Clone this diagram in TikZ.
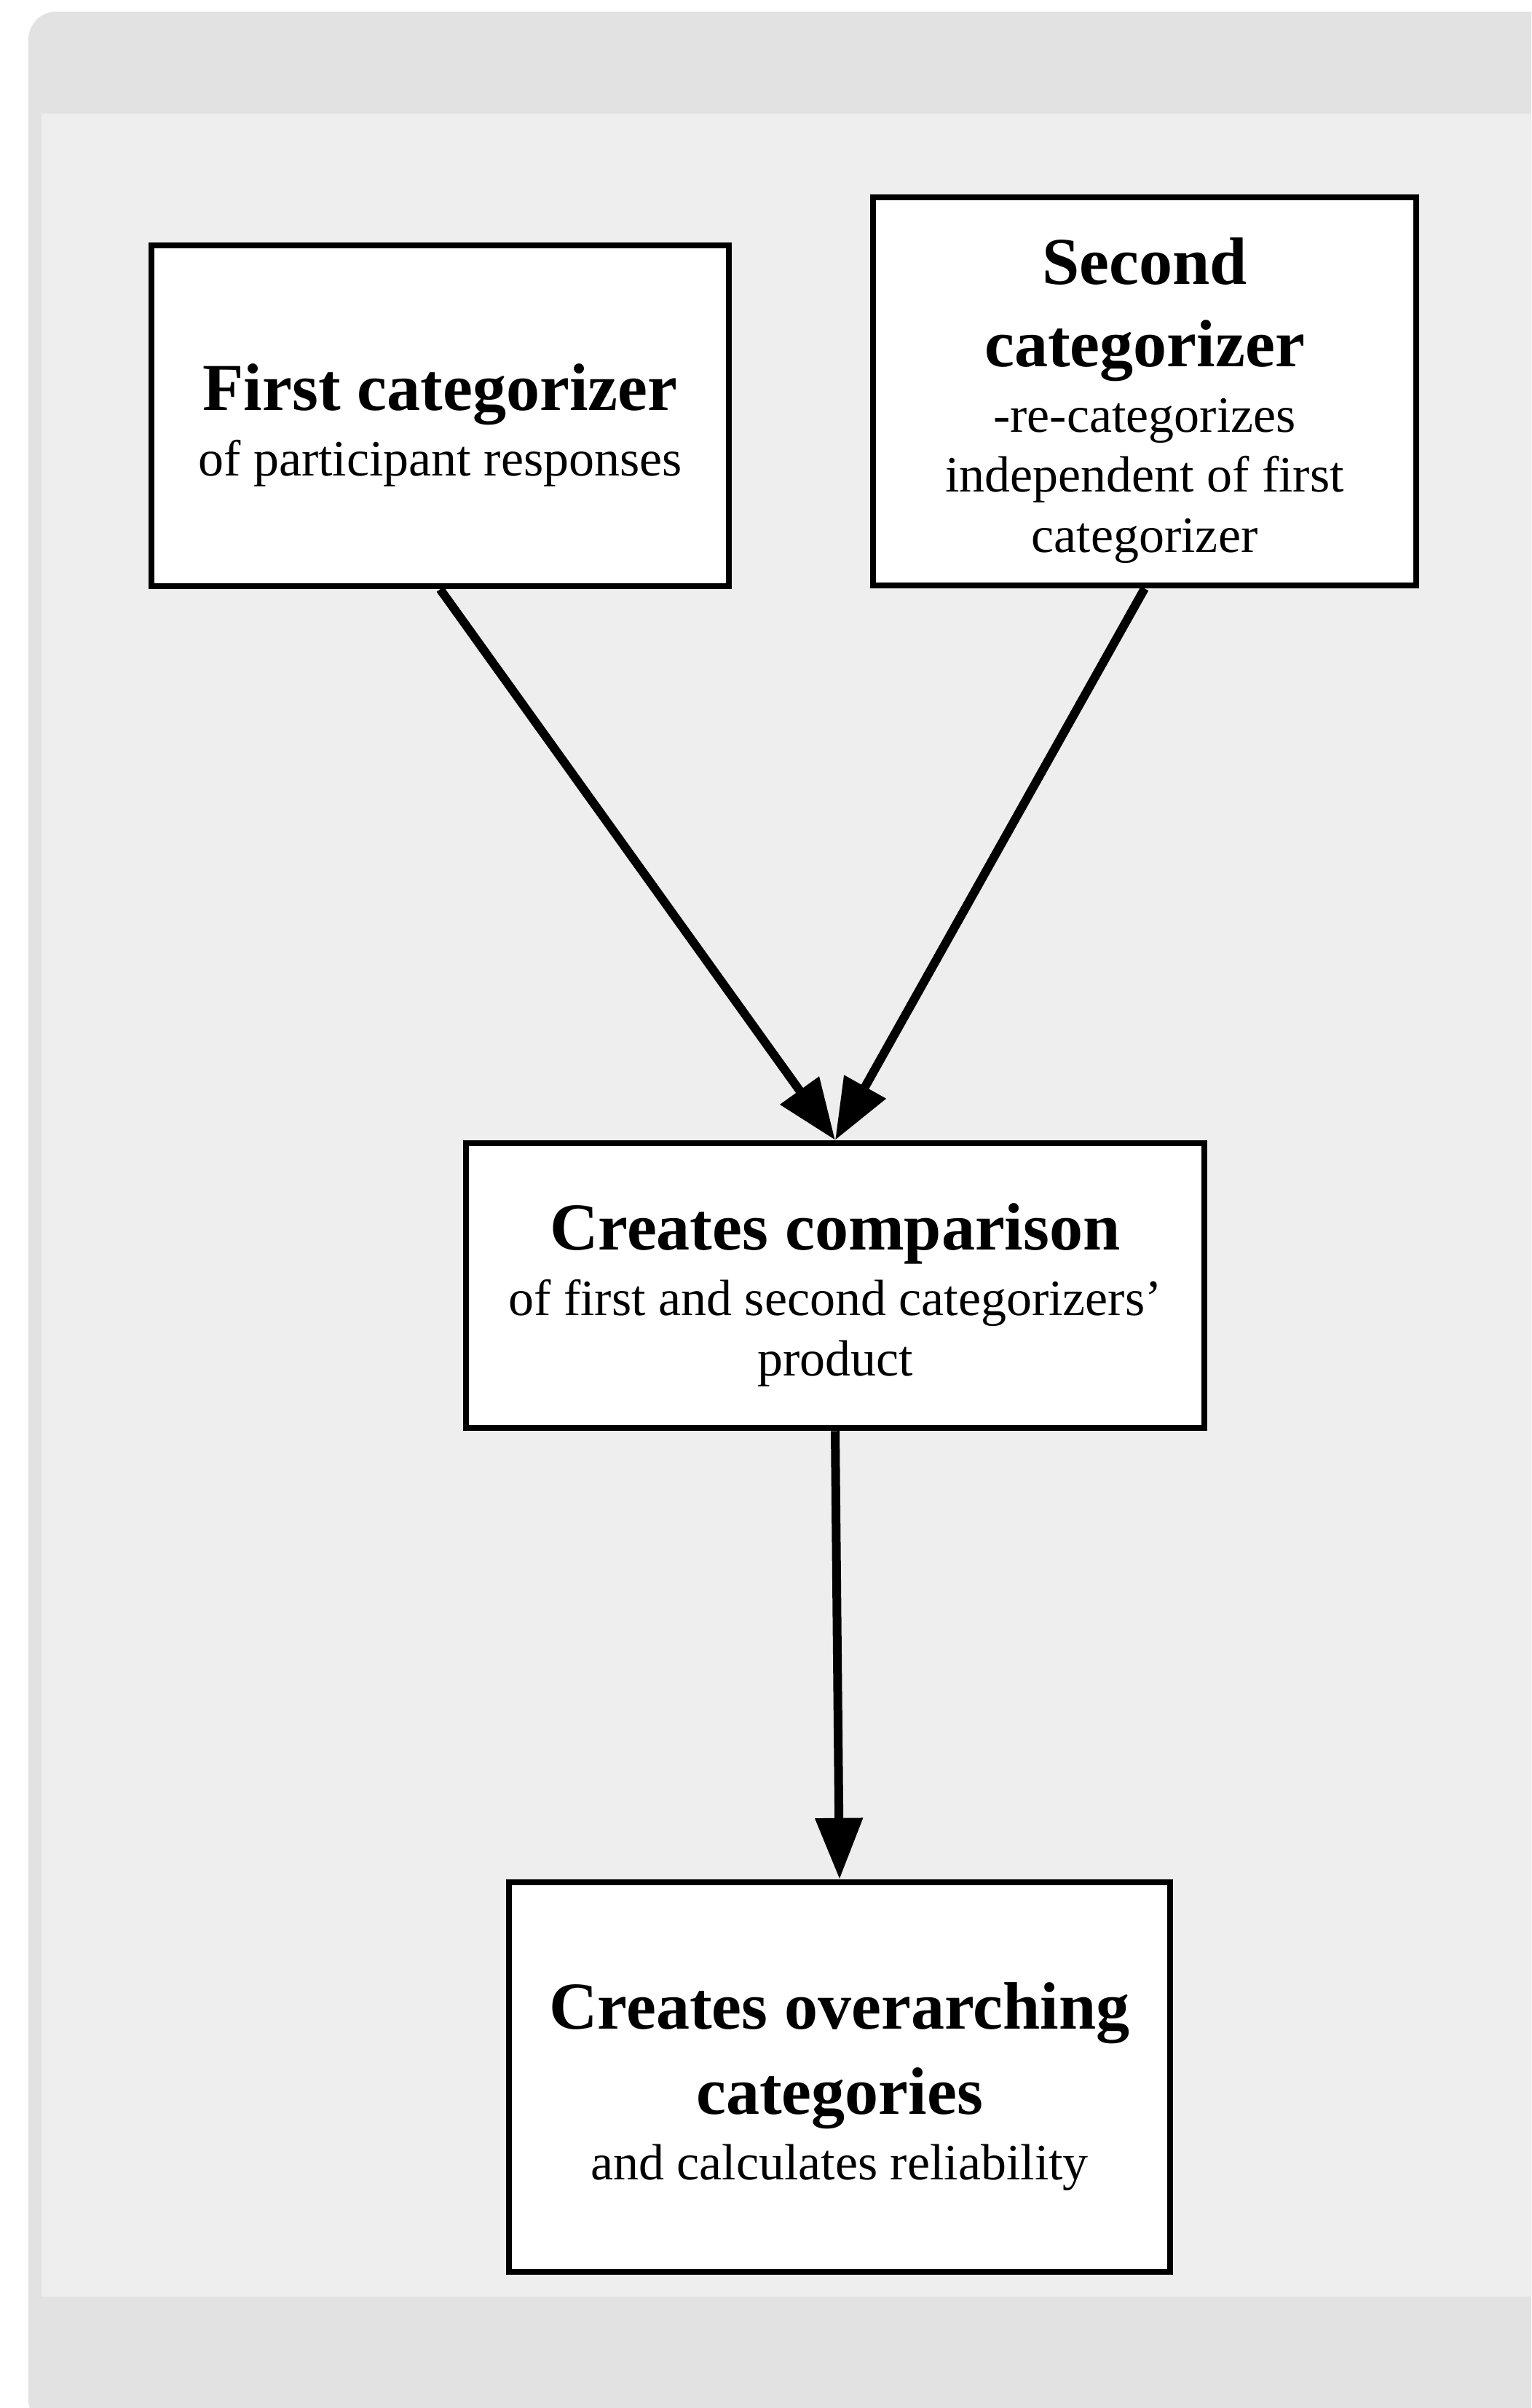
\documentclass[tikz,border=0pt]{standalone}
\usepackage{fontspec}
\setmainfont{Liberation Serif}
\usetikzlibrary{arrows.meta}
\definecolor{framegray}{HTML}{E2E2E2}
\definecolor{innergray}{HTML}{EEEEEE}
\newcommand\hdline[1]{{\fontsize{26.2}{31.9}\selectfont\bfseries #1}}
\tikzset{
  stepbox/.style={draw=black, line width=0.085cm, fill=white, inner sep=0pt},
  boxtext/.style={align=center, font=\fontsize{19.9}{23.6}\selectfont, inner sep=0pt},
  flowarrow/.style={line width=0.12cm, -{Triangle[length=0.84cm, width=0.63cm]}}
}
\begin{document}
\begin{tikzpicture}
\useasboundingbox (0,0) rectangle (21.03,-33.07);
\clip (0,0) rectangle (21.03,-33.07);
\fill[white] (0,0) rectangle (21.03,-33.07);
\fill[framegray, rounded corners=0.38cm] (0.39,-0.16) rectangle (21.6,-33.33);
\fill[innergray] (0.57,-1.56) rectangle (21.2,-31.54);

% boxes
\node[stepbox, minimum width=7.93cm, minimum height=4.68cm] (b1) at (6.045,-5.71) {};
\node[stepbox, minimum width=7.46cm, minimum height=5.33cm] (b2) at (15.72,-5.375) {};
\node[stepbox, minimum width=10.14cm, minimum height=3.91cm] (b3) at (11.47,-17.655) {};
\node[stepbox, minimum width=9.08cm, minimum height=5.35cm] (b4) at (11.53,-28.525) {};

% texts
\node[boxtext] (t1) at ([yshift=-0.13cm]b1.center)
  {\hdline{First categorizer}\\[2pt] of participant responses};
\node[boxtext] (t2) at ([yshift=-0.13cm]b2.center)
  {\hdline{Second}\\[8.3pt]\hdline{categorizer}\\[2pt] -re-categorizes\\ independent of first\\ categorizer};
\node[boxtext] (t3) at ([yshift=-0.13cm]b3.center)
  {\hdline{Creates comparison}\\[2pt] of first and second categorizers’\\ product};
\node[boxtext] (t4) at ([yshift=-0.13cm]b4.center)
  {\hdline{Creates overarching}\\[8.3pt]\hdline{categories}\\[2pt] and calculates reliability};

% connectors
\draw[flowarrow] (b1.south) -- (b3.north);
\draw[flowarrow] (b2.south) -- (b3.north);
\draw[flowarrow] (b3.south) -- (b4.north);
\end{tikzpicture}
\end{document}
